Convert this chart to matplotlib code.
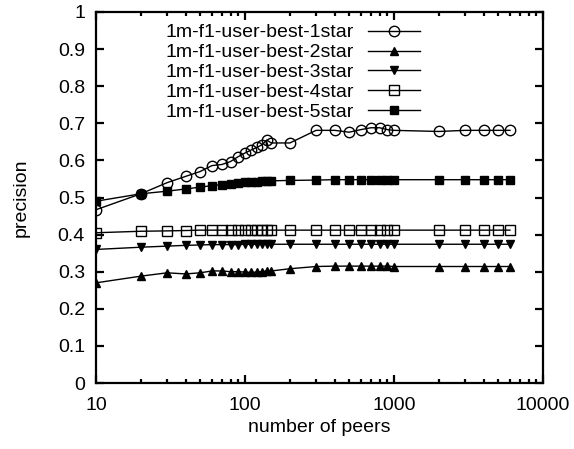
import matplotlib
matplotlib.use("Agg")
import matplotlib.pyplot as plt
from matplotlib.ticker import LogLocator, FixedLocator, NullFormatter

plt.rcParams['font.family'] = ['Liberation Sans', 'DejaVu Sans']

peers = [10, 20, 30, 40, 50, 60, 70, 80, 90, 100, 110, 120, 130, 140, 150,
         200, 300, 400, 500, 600, 700, 800, 900, 1000, 2000, 3000, 4000, 5000, 6000]

star1 = [0.467, 0.51, 0.54, 0.557, 0.57, 0.586, 0.589, 0.597, 0.61, 0.62, 0.628,
         0.635, 0.642, 0.655, 0.647, 0.647, 0.681, 0.681, 0.676, 0.683, 0.688,
         0.688, 0.683, 0.681, 0.678, 0.681, 0.681, 0.681, 0.681]
star2 = [0.27, 0.288, 0.297, 0.294, 0.297, 0.302, 0.302, 0.300, 0.300, 0.299, 0.298,
         0.299, 0.300, 0.302, 0.302, 0.308, 0.314, 0.315, 0.315, 0.315, 0.315,
         0.315, 0.315, 0.314, 0.314, 0.314, 0.314, 0.314, 0.314]
star3 = [0.36, 0.366, 0.369, 0.371, 0.372, 0.373, 0.373, 0.373, 0.373, 0.374, 0.374,
         0.374, 0.374, 0.374, 0.374, 0.374, 0.374, 0.374, 0.374, 0.374, 0.374,
         0.374, 0.374, 0.374, 0.374, 0.374, 0.374, 0.374, 0.374]
star4 = [0.405, 0.409, 0.410, 0.411, 0.412, 0.412, 0.412, 0.412, 0.412, 0.412, 0.412,
         0.412, 0.412, 0.412, 0.412, 0.412, 0.412, 0.412, 0.412, 0.412, 0.412,
         0.412, 0.412, 0.412, 0.412, 0.412, 0.412, 0.412, 0.412]
star5 = [0.49, 0.51, 0.517, 0.523, 0.528, 0.532, 0.535, 0.537, 0.539, 0.541, 0.542,
         0.543, 0.544, 0.545, 0.545, 0.546, 0.547, 0.548, 0.548, 0.548, 0.548,
         0.548, 0.548, 0.548, 0.548, 0.548, 0.548, 0.548, 0.548]

labels = ['1m-f1-user-best-1star', '1m-f1-user-best-2star', '1m-f1-user-best-3star',
          '1m-f1-user-best-4star', '1m-f1-user-best-5star']
yticks = [0, 0.1, 0.2, 0.3, 0.4, 0.5, 0.6, 0.7, 0.8, 0.9, 1]
ytick_labels = ['0', '0.1', '0.2', '0.3', '0.4', '0.5', '0.6', '0.7', '0.8', '0.9', '1']
xticks = [10, 100, 1000, 10000]
xtick_labels = ['10', '100', '1000', '10000']

fig = plt.figure(figsize=(5.74, 4.49), dpi=100)
ax = fig.add_axes([96/574, 66/449, (543-96)/574, (383-12)/449])

series = [star1, star2, star3, star4, star5]
styles = [dict(marker='o', mfc='none', ms=7.5),
          dict(marker='^', mfc='black', ms=6),
          dict(marker='v', mfc='black', ms=6),
          dict(marker='s', mfc='none', ms=6.5),
          dict(marker='s', mfc='black', ms=6)]
for s, st, lab in zip(series, styles, labels):
    ax.plot(peers, s, color='black', lw=1.0, mec='black', mew=1.0, label=lab, **st)

ax.set_xscale('log')
ax.set_xlim(10, 10000)
ax.set_ylim(0, 1)
ax.xaxis.set_major_locator(FixedLocator(xticks))
ax.set_xticklabels(xtick_labels)
ax.xaxis.set_minor_locator(LogLocator(base=10, subs=range(2, 10)))
ax.xaxis.set_minor_formatter(NullFormatter())
ax.set_yticks(yticks)
ax.set_yticklabels(ytick_labels)

for sp in ax.spines.values():
    sp.set_linewidth(1.6)
ax.tick_params(which='major', direction='in', length=6, width=1.6, top=True, right=True,
               labelsize=14, pad=8)
ax.tick_params(axis='x', which='major', pad=10)
ax.tick_params(which='minor', direction='in', length=3, width=1.6, top=True, right=False)

ax.set_xlabel('number of peers', fontsize=14, labelpad=4)
ax.set_ylabel('precision', fontsize=14, labelpad=20)

leg = ax.legend(loc='upper left', bbox_to_anchor=(0.125, 1.005), frameon=False,
                markerfirst=False, fontsize=14, handlelength=2.7,
                labelspacing=0.12, handletextpad=0.7, borderaxespad=0.3,
                alignment='right')

fig.savefig('out.png', dpi=100)
